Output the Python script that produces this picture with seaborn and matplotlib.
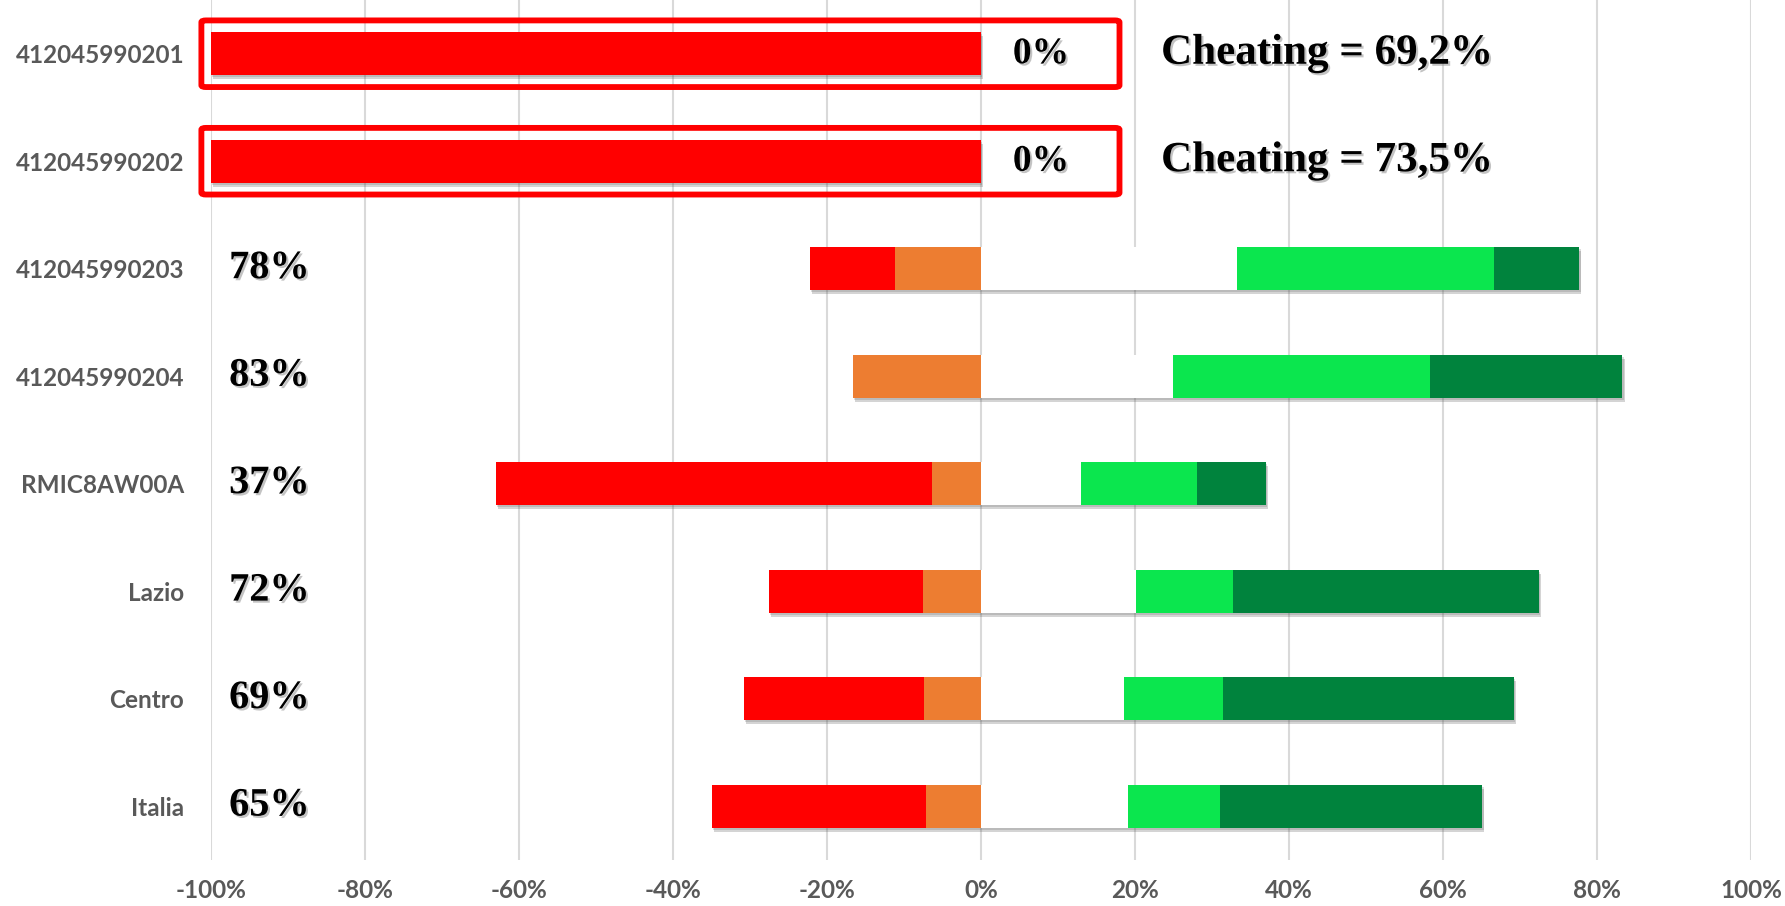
import matplotlib
matplotlib.use("Agg")
import matplotlib.pyplot as plt
import matplotlib.patheffects as pe
from matplotlib.patches import FancyBboxPatch
import numpy as np
import pandas as pd
import seaborn as sns

categories = ['412045990201', '412045990202', '412045990203', '412045990204',
              'RMIC8AW00A', 'Lazio', 'Centro', 'Italia']
red = [100.0, 100.0, 11.1, 0.0, 56.6, 20.0, 23.4, 27.8]
orange = [0.0, 0.0, 11.1, 16.6, 6.4, 7.5, 7.4, 7.1]
white = [0.0, 0.0, 33.3, 25.0, 13.0, 20.1, 18.6, 19.1]
lgreen = [0.0, 0.0, 33.3, 33.3, 15.1, 12.7, 12.9, 12.0]
dgreen = [0.0, 0.0, 11.1, 25.0, 8.9, 39.6, 37.7, 34.0]
pct_labels = ['0%', '0%', '78%', '83%', '37%', '72%', '69%', '65%']
cheating_labels = ['Cheating = 69,2%', 'Cheating = 73,5%']
xticks = [-100, -80, -60, -40, -20, 0, 20, 40, 60, 80, 100]

C_RED = '#FF0000'
C_ORANGE = '#ED7D31'
C_WHITE = '#FFFFFF'
C_LG = '#0BE64E'
C_DG = '#00833D'

sns.set_style('white')
plt.rcParams['font.family'] = ['DejaVu Sans']

fig = plt.figure(figsize=(17.85, 9.06), dpi=100)
ax = fig.add_axes([0.118, 0.051, 0.863, 0.949])

df = pd.DataFrame({'cat': categories,
                   'red': red, 'orange': orange, 'white': white,
                   'lg': lgreen, 'dg': dgreen})
df['neg_total'] = -(df['red'] + df['orange'])
df['neg_orange'] = -df['orange']
df['pos_total'] = df['white'] + df['lg'] + df['dg']
df['pos_wlg'] = df['white'] + df['lg']
df['pos_w'] = df['white']

shadow = [pe.SimplePatchShadow(offset=(1.5, -3), shadow_rgbFace='#555555', alpha=0.25),
          pe.SimplePatchShadow(offset=(1, -1.5), shadow_rgbFace='#555555', alpha=0.2),
          pe.Normal()]

layers = [('neg_total', C_RED, True), ('pos_total', C_DG, True),
          ('neg_orange', C_ORANGE, False), ('pos_wlg', C_LG, False),
          ('pos_w', C_WHITE, False)]
for col, colr, sh in layers:
    n0 = len(ax.patches)
    sns.barplot(data=df, x=col, y='cat', order=categories, orient='h',
                color=colr, width=0.4, saturation=1, ax=ax, linewidth=0)
    if sh:
        for p in ax.patches[n0:]:
            p.set_path_effects(shadow)

ax.set_xlim(-100, 100)
ax.set_ylim(7.5, -0.5)
ax.set_xticks(xticks)
ax.set_xticklabels([f'{v}%' for v in xticks])
ax.set_xlabel('')
ax.set_ylabel('')
ax.set_axisbelow(True)
ax.grid(axis='x', color='#D9D9D9', linewidth=1.5)
ax.grid(axis='y', visible=False)
for s in ax.spines.values():
    s.set_visible(False)
ax.tick_params(axis='both', length=0)
ax.tick_params(axis='y', pad=19)
ax.tick_params(axis='x', pad=14)
for lab in ax.get_xticklabels() + ax.get_yticklabels():
    lab.set_fontfamily('Lato')
    lab.set_fontweight('bold')
    lab.set_fontsize(17.5)
    lab.set_color('#595959')

txt_shadow = [pe.SimplePatchShadow(offset=(1.5, -1.5), shadow_rgbFace='#888888', alpha=0.5), pe.Normal()]
serif = ['Liberation Serif', 'DejaVu Serif']
for i, lab in enumerate(pct_labels):
    if i < 2:
        t = ax.text(7.8, i, lab, ha='center', va='center', fontsize=27,
                    fontweight='bold', family=serif, color='black')
    else:
        t = ax.text(-97.6, i, lab, ha='left', va='center', fontsize=29,
                    fontweight='bold', family=serif, color='black')
    t.set_path_effects(txt_shadow)

for i, lab in enumerate(cheating_labels):
    t = ax.text(23.4, i, lab, ha='left', va='center', fontsize=31,
                fontweight='bold', family=serif, color='black')
    t.set_path_effects(txt_shadow)

for i in range(2):
    box = FancyBboxPatch((-101.2, i - 0.31), 119.2, 0.62,
                         boxstyle='round,pad=0,rounding_size=0.6',
                         fill=False, edgecolor='#FF0000', linewidth=4.2,
                         mutation_aspect=0.03, clip_on=False, zorder=5)
    ax.add_patch(box)

fig.savefig('out.png', dpi=100, facecolor='white')
